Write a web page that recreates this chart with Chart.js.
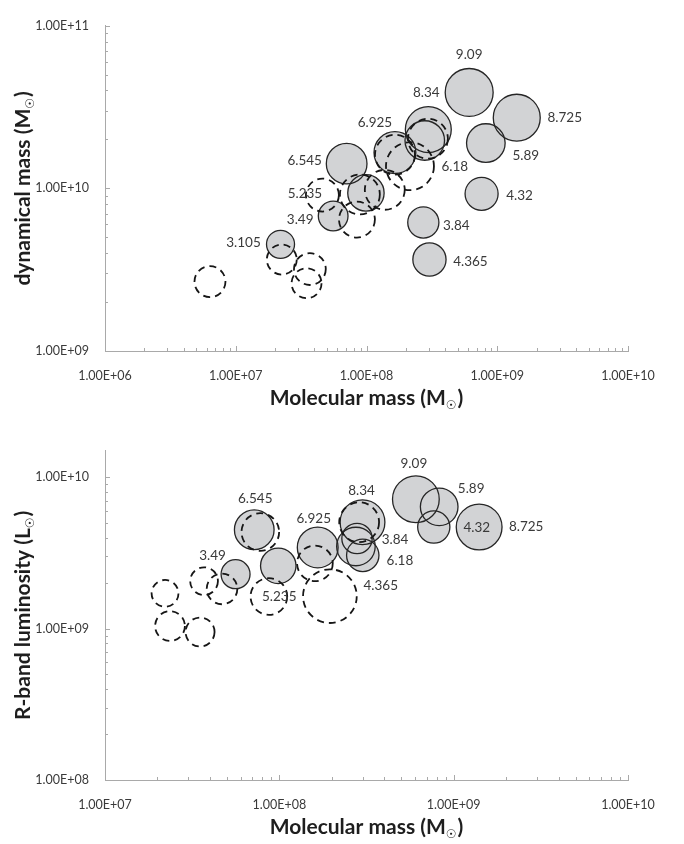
<!DOCTYPE html>
<html>
<head>
<meta charset="utf-8">
<script src="https://cdn.jsdelivr.net/npm/chart.js@4.4.1/dist/chart.umd.min.js"></script>
<style>
  body { margin: 0; background: #fff; }
  .box { position: relative; width: 684px; height: 422px; }
  canvas { display: block; }
</style>
</head>
<body>
<div class="box"><canvas id="massChart" width="684" height="422"></canvas></div>
<div class="box"><canvas id="lumChart" width="684" height="422"></canvas></div>
<script>
// top panel: molecular mass vs dynamical mass
const dynSolidX = [6.1e8, 1.41e9, 2.97e8, 2.79e8, 1.65e8, 7.05e7, 8.18e8, 7.59e8, 2.72e8, 9.9e7, 5.56e7, 2.2e7, 3.03e8];
const dynSolidY = [3.89e10, 2.72e10, 2.30e10, 1.97e10, 1.66e10, 1.42e10, 1.90e10, 9.26e9, 6.17e9, 9.38e9, 6.76e9, 4.53e9, 3.65e9];
const dynSolidSize = [9.09, 8.725, 8.34, 6.18, 6.925, 6.545, 5.89, 4.32, 3.84, 5.235, 3.49, 3.105, 4.365];
const dynDashX = [6.35e6, 2.25e7, 3.69e7, 3.48e7, 4.6e7, 8.45e7, 8.9e7, 1.38e8, 1.65e8, 2.15e8, 2.95e8];
const dynDashY = [2.67e9, 3.65e9, 3.19e9, 2.61e9, 9.1e9, 6.43e9, 9.17e9, 9.8e9, 1.61e10, 1.37e10, 2.02e10];
const dynDashSize = [3.8, 3.55, 4.0, 3.55, 4.3, 5.1, 6.3, 6.3, 6.3, 9.1, 6.3];

// bottom panel: molecular mass vs R-band luminosity
const lumSolidX = [6.07e8, 8.26e8, 7.69e8, 1.4e9, 3.0e8, 2.79e8, 2.75e8, 3.01e8, 7.18e7, 1.66e8, 9.86e7, 5.61e7];
const lumSolidY = [7.17e9, 6.38e9, 4.69e9, 4.69e9, 5.05e9, 3.94e9, 3.49e9, 3.05e9, 4.5e9, 3.44e9, 2.6e9, 2.29e9];
const lumSolidSize = [9.09, 5.89, 4.32, 8.725, 8.34, 3.84, 6.18, 4.365, 6.545, 6.925, 5.235, 3.49];
const lumDashX = [2.21e7, 2.36e7, 3.51e7, 3.7e7, 4.69e7, 8.71e7, 1.95e8, 7.78e7, 1.6e8, 2.87e8];
const lumDashY = [1.71e9, 1.04e9, 9.5e8, 2.06e9, 1.83e9, 1.63e9, 1.64e9, 4.35e9, 2.7e9, 5.05e9];
const lumDashSize = [3.0, 3.7, 3.5, 3.2, 3.9, 5.6, 12, 5.9, 5.3, 6.6];

// where each size label sits relative to its bubble (px)
const dynLabelDx = [0, 48, -2, 30, -20, -42, 40, 38, 33, -61, -33, -37, 41];
const dynLabelDy = [-38, 0, -37, 26, -30, -3, 13, 2, 3, 1, 4, -2, 2];
const lumLabelDx = [-2, 32, 43, 47, -1, 38, 44, 18, 1, -4, 1, -23];
const lumLabelDy = [-36, -18, 1, 0, -32, 1, 14, 30, -31, -29, 31, -19];

const axisGrey = '#a9a9a9';
const bubbleFill = '#d2d3d5';
const inkDark = '#262626';

function bubbles(xs, ys, sizes, k) {
    return xs.map((x, i) => ({ x: x, y: ys[i], r: k * Math.sqrt(sizes[i]) }));
}

function isDecade(v) {
    const l = Math.log10(v);
    return Math.abs(l - Math.round(l)) < 1e-6;
}

function logTicks(scale) {
    const ticks = [];
    const lo = Math.floor(Math.log10(scale.min)), hi = Math.ceil(Math.log10(scale.max));
    for (let e = lo; e <= hi; e++) {
        for (let m = 1; m < 10; m++) {
            const v = m * Math.pow(10, e);
            if (v >= scale.min * 0.999 && v <= scale.max * 1.001) ticks.push({ value: v });
        }
    }
    scale.ticks = ticks;
}

function sciLabel(v) {
    if (!isDecade(v)) return '';
    const e = Math.round(Math.log10(v));
    return '1.00E+' + String(e).padStart(2, '0');
}

// dashed outline for the second sample
const dashPlugin = {
    id: 'dashPlugin',
    beforeDatasetDraw(chart, args) {
        if (chart.data.datasets[args.index].dashed) {
            chart.ctx.save();
            chart.ctx.setLineDash([7, 5]);
        }
    },
    afterDatasetDraw(chart, args) {
        if (chart.data.datasets[args.index].dashed) chart.ctx.restore();
    }
};

// small tick marks pointing into the plot, like the spreadsheet axes
const innerTicks = {
    id: 'innerTicks',
    beforeDatasetsDraw(chart) {
        const ctx = chart.ctx, a = chart.chartArea;
        ctx.save();
        ctx.strokeStyle = axisGrey;
        ctx.lineWidth = 1;
        chart.scales.x.ticks.forEach(t => {
            const px = Math.round(chart.scales.x.getPixelForValue(t.value)) + 0.5;
            const len = isDecade(t.value) ? 5 : 3;
            ctx.beginPath(); ctx.moveTo(px, a.bottom); ctx.lineTo(px, a.bottom - len); ctx.stroke();
        });
        chart.scales.y.ticks.forEach(t => {
            const py = Math.round(chart.scales.y.getPixelForValue(t.value)) + 0.5;
            const len = isDecade(t.value) ? 5 : 3;
            ctx.beginPath(); ctx.moveTo(a.left, py); ctx.lineTo(a.left + len, py); ctx.stroke();
        });
        ctx.restore();
    }
};

// size values written beside the filled bubbles
const sizeLabels = {
    id: 'sizeLabels',
    afterDatasetsDraw(chart) {
        const ctx = chart.ctx;
        ctx.save();
        ctx.font = '13.5px Lato, "DejaVu Sans", sans-serif';
        ctx.fillStyle = '#3a3a3a';
        ctx.textAlign = 'center';
        ctx.textBaseline = 'middle';
        chart.data.datasets.forEach((ds, di) => {
            if (!ds.labels) return;
            chart.getDatasetMeta(di).data.forEach((el, i) => {
                ctx.fillText(String(ds.labels[i]), el.x + ds.labelDx[i], el.y + ds.labelDy[i]);
            });
        });
        ctx.restore();
    }
};

function drawSunTitle(ctx, main, cx, cy, rotate) {
    ctx.save();
    ctx.translate(cx, cy);
    if (rotate) ctx.rotate(-Math.PI / 2);
    ctx.fillStyle = '#1e1e1e';
    ctx.textAlign = 'left';
    ctx.textBaseline = 'alphabetic';
    const big = 'bold 21px Lato, "DejaVu Sans", sans-serif';
    const small = 'bold 12px "DejaVu Sans", sans-serif';
    ctx.font = big;
    const w1 = ctx.measureText(main).width, w3 = ctx.measureText(')').width;
    ctx.font = small;
    const w2 = ctx.measureText('\u2609').width + 1;
    let x = -(w1 + w2 + w3) / 2;
    ctx.font = big; ctx.fillText(main, x, 7); x += w1;
    ctx.font = small; ctx.fillText('\u2609', x, 11); x += w2;
    ctx.font = big; ctx.fillText(')', x, 7);
    ctx.restore();
}

function titlePlugin(xTitle, yTitle) {
    return {
        id: 'axisTitles',
        afterDraw(chart) {
            const a = chart.chartArea;
            drawSunTitle(chart.ctx, xTitle, (a.left + a.right) / 2, a.bottom + 47, false);
            drawSunTitle(chart.ctx, yTitle, 23, (a.top + a.bottom) / 2, true);
        }
    };
}

function makeChart(id, opts) {
    const k = opts.k;
    return new Chart(document.getElementById(id), {
        type: 'bubble',
        data: {
            datasets: [
                {
                    data: bubbles(opts.sx, opts.sy, opts.ss, k),
                    backgroundColor: bubbleFill, borderColor: 'rgba(0,0,0,0)', borderWidth: 0,
                    order: 3, clip: false
                },
                {
                    data: bubbles(opts.sx, opts.sy, opts.ss, k),
                    backgroundColor: 'rgba(0,0,0,0)', borderColor: inkDark, borderWidth: 1.3,
                    labels: opts.ss, labelDx: opts.dx, labelDy: opts.dy,
                    order: 2, clip: false
                },
                {
                    data: bubbles(opts.dashX, opts.dashY, opts.dashS, k),
                    backgroundColor: 'rgba(0,0,0,0)', borderColor: '#161616', borderWidth: 1.8,
                    dashed: true, order: 1, clip: false
                }
            ]
        },
        options: {
            responsive: false,
            animation: false,
            events: [],
            layout: { padding: { top: opts.padTop, right: 56, left: 0, bottom: 0 } },
            plugins: { legend: { display: false }, tooltip: { enabled: false } },
            scales: {
                x: {
                    type: 'logarithmic', min: opts.xMin, max: opts.xMax,
                    afterBuildTicks: logTicks,
                    afterFit: s => { s.height = opts.xAxisH; },
                    grid: { display: false },
                    border: { display: true, color: axisGrey, width: 1 },
                    ticks: {
                        callback: v => sciLabel(v), autoSkip: false, maxRotation: 0, padding: 9,
                        color: '#3a3a3a', font: { family: 'Lato, "DejaVu Sans", sans-serif', size: 12.5 }
                    }
                },
                y: {
                    type: 'logarithmic', min: opts.yMin, max: opts.yMax,
                    afterBuildTicks: logTicks,
                    afterFit: s => { s.width = 105; },
                    grid: { display: false },
                    border: { display: true, color: axisGrey, width: 1 },
                    ticks: {
                        callback: v => sciLabel(v), autoSkip: false, padding: 8,
                        color: '#3a3a3a', font: { family: 'Lato, "DejaVu Sans", sans-serif', size: 12.5 }
                    }
                }
            }
        },
        plugins: [innerTicks, dashPlugin, sizeLabels, titlePlugin(opts.xTitle, opts.yTitle)]
    });
}

makeChart('massChart', {
    sx: dynSolidX, sy: dynSolidY, ss: dynSolidSize,
    dashX: dynDashX, dashY: dynDashY, dashS: dynDashSize,
    dx: dynLabelDx, dy: dynLabelDy, k: 7.95,
    xMin: 1e6, xMax: 1e10, yMin: 1e9, yMax: 1e11,
    padTop: 9, xAxisH: 71,
    xTitle: 'Molecular mass (M', yTitle: 'dynamical mass (M'
});

makeChart('lumChart', {
    sx: lumSolidX, sy: lumSolidY, ss: lumSolidSize,
    dashX: lumDashX, dashY: lumDashY, dashS: lumDashSize,
    dx: lumLabelDx, dy: lumLabelDy, k: 7.75,
    xMin: 1e7, xMax: 1e10, yMin: 1e8, yMax: 1.5e10,
    padTop: 23, xAxisH: 64,
    xTitle: 'Molecular mass (M', yTitle: 'R-band luminosity (L'
});
</script>
</body>
</html>
